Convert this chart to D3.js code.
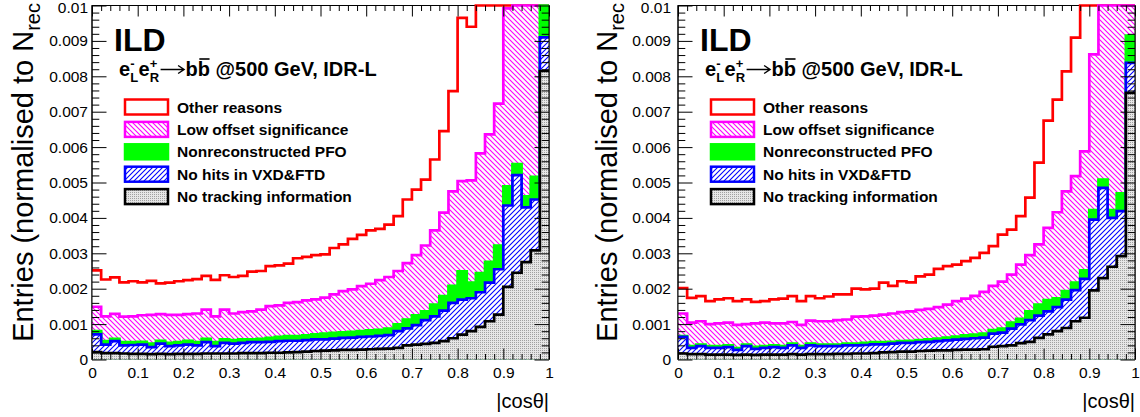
<!DOCTYPE html>
<html><head><meta charset="utf-8">
<script src="https://cdn.jsdelivr.net/npm/d3@7"></script>
<style>
body{margin:0;background:#fff}
svg{display:block}
text{font-family:"Liberation Sans",Arial,Helvetica,sans-serif}
</style>
</head><body>
<svg id="c" width="1140" height="417"></svg>
<script>
// ---------------- DATA ----------------
// bin edges of |cos(theta)| (50 bins)
const binEdges = [0,0.02,0.04,0.06,0.08,0.1,0.12,0.14,0.16,0.18,0.2,0.22,0.24,0.26,0.28,0.3,0.32,0.34,0.36,0.38,0.4,
  0.42,0.44,0.46,0.48,0.5,0.52,0.54,0.56,0.58,0.6,0.62,0.64,0.66,0.68,0.7,0.72,0.74,0.76,0.78,0.8,
  0.82,0.84,0.86,0.88,0.9,0.92,0.94,0.96,0.98,1];
const xTickValues = [0,0.1,0.2,0.3,0.4,0.5,0.6,0.7,0.8,0.9,1];
const xTickLabels = ["0","0.1","0.2","0.3","0.4","0.5","0.6","0.7","0.8","0.9","1"];
// y values are stored in units of 1e-3
const yTickValues = [0,1,2,3,4,5,6,7,8,9,10];
const yTickLabels = ["0","0.001","0.002","0.003","0.004","0.005","0.006","0.007","0.008","0.009","0.01"];
const seriesNames = ["Other reasons","Low offset significance","Nonreconstructed PFO","No hits in VXD&FTD","No tracking information"];

// Stacked (cumulative) levels, units 1e-3, left panel
const leftOther = [2.52,2.26,2.32,2.18,2.21,2.18,2.22,2.15,2.17,2.21,2.24,2.27,2.36,2.25,2.38,2.33,2.36,2.48,2.50,2.64,
  2.66,2.71,2.86,2.90,2.95,2.97,3.15,3.25,3.41,3.52,3.65,3.69,3.81,4.05,4.52,4.80,5.08,5.65,6.45,7.58,
  9.65,9.40,10.6,11.2,12.0,13.0,14.0,15.0,16.0,18.0];
const leftLowOffset = [1.49,1.22,1.29,1.21,1.22,1.25,1.26,1.28,1.26,1.26,1.28,1.30,1.41,1.22,1.41,1.30,1.34,1.36,1.41,1.51,
  1.53,1.60,1.62,1.67,1.70,1.75,1.84,1.93,1.98,2.07,2.14,2.24,2.33,2.50,2.72,2.95,3.22,3.65,4.15,4.75,
  5.04,5.06,5.82,6.36,7.23,9.92,10.4,10.8,11.5,13.0];
const leftNonreco = [0.80,0.52,0.58,0.49,0.49,0.50,0.45,0.53,0.47,0.49,0.53,0.49,0.58,0.49,0.57,0.55,0.57,0.57,0.58,0.61,
  0.64,0.66,0.66,0.68,0.71,0.73,0.75,0.77,0.78,0.80,0.82,0.84,0.87,0.99,1.13,1.25,1.36,1.55,1.79,2.08,
  2.49,2.17,2.44,2.76,3.22,4.89,5.52,4.61,5.16,10.3];
const leftNoHits = [0.71,0.42,0.52,0.40,0.41,0.42,0.35,0.45,0.38,0.40,0.42,0.40,0.49,0.38,0.47,0.45,0.47,0.49,0.49,0.50,
  0.52,0.53,0.53,0.55,0.57,0.57,0.59,0.61,0.62,0.64,0.65,0.67,0.69,0.80,0.88,0.97,1.11,1.22,1.38,1.60,
  1.69,1.73,1.90,2.17,2.55,4.35,5.21,4.30,4.52,9.10];
const leftNoTrack = [0.21,0.18,0.18,0.17,0.16,0.16,0.15,0.16,0.15,0.16,0.16,0.16,0.17,0.17,0.17,0.17,0.18,0.18,0.18,0.19,
  0.19,0.20,0.21,0.22,0.24,0.25,0.26,0.27,0.27,0.28,0.29,0.30,0.31,0.33,0.40,0.42,0.44,0.47,0.52,0.60,
  0.70,0.80,0.92,1.08,1.27,2.05,2.45,2.75,3.08,8.15];

// right panel
const rightOther = [2.02,1.74,1.79,1.65,1.70,1.73,1.65,1.70,1.63,1.65,1.70,1.72,1.79,1.65,1.79,1.73,1.78,1.84,1.84,2.00,
  1.98,2.00,2.17,2.08,2.21,2.18,2.35,2.40,2.56,2.64,2.68,2.78,2.87,3.01,3.20,3.53,3.67,4.05,4.57,5.56,
  6.75,7.34,8.14,9.09,10.8,11.5,12.5,13.5,14.5,17.0];
const rightLowOffset = [1.30,1.04,1.08,1.00,1.02,1.04,0.98,1.00,1.02,1.04,1.02,1.02,1.06,0.98,1.10,1.08,1.08,1.11,1.13,1.21,
  1.22,1.24,1.27,1.30,1.34,1.36,1.40,1.43,1.48,1.55,1.65,1.72,1.80,1.91,2.08,2.20,2.40,2.68,2.95,3.25,
  3.72,4.16,4.75,5.18,5.88,8.62,10.5,11.0,11.8,13.5];
const rightNonreco = [0.66,0.38,0.42,0.38,0.38,0.40,0.32,0.42,0.36,0.38,0.40,0.38,0.45,0.38,0.45,0.42,0.42,0.42,0.45,0.45,
  0.47,0.49,0.49,0.50,0.52,0.53,0.55,0.57,0.59,0.62,0.65,0.68,0.70,0.73,0.83,0.87,1.04,1.15,1.36,1.55,
  1.68,1.73,1.93,2.17,2.52,4.22,5.08,4.22,4.69,9.15];
const rightNoHits = [0.64,0.33,0.38,0.33,0.33,0.35,0.27,0.38,0.30,0.33,0.35,0.33,0.40,0.33,0.40,0.38,0.38,0.38,0.40,0.40,
  0.41,0.43,0.43,0.45,0.47,0.47,0.49,0.50,0.52,0.54,0.56,0.58,0.60,0.62,0.73,0.76,0.87,0.99,1.11,1.24,
  1.36,1.48,1.69,1.96,2.28,3.95,4.85,4.00,4.19,8.38];
const rightNoTrack = [0.17,0.15,0.15,0.14,0.14,0.14,0.13,0.14,0.13,0.14,0.14,0.14,0.15,0.14,0.15,0.15,0.15,0.16,0.16,0.17,
  0.17,0.18,0.20,0.21,0.22,0.22,0.24,0.25,0.26,0.26,0.27,0.28,0.28,0.29,0.36,0.38,0.40,0.46,0.50,0.61,
  0.71,0.80,0.89,1.08,1.18,1.95,2.30,2.62,2.92,7.53];

// ---------------- DRAWING ----------------
const svg = d3.select("#c");
const defs = svg.append("defs");

function hatchPattern(id, color, dir){
  const s = 5;
  const p = defs.append("pattern").attr("id", id).attr("patternUnits","userSpaceOnUse")
    .attr("width", s).attr("height", s);
  p.append("rect").attr("width", s).attr("height", s).attr("fill","#fff");
  const d = dir === "back"
    ? `M0,0 L${s},${s} M${-1},${s-1} L1,${s+1} M${s-1},-1 L${s+1},1`
    : `M0,${s} L${s},0 M-1,1 L1,-1 M${s-1},${s+1} L${s+1},${s-1}`;
  p.append("path").attr("d", d).attr("stroke", color).attr("stroke-width", 1.1).attr("fill","none");
}
hatchPattern("hMag", "#ff00ff", "back");
hatchPattern("hBlue", "#0000ff", "fwd");
{
  const p = defs.append("pattern").attr("id","dots").attr("patternUnits","userSpaceOnUse")
    .attr("width", 2).attr("height", 2);
  p.append("rect").attr("width",2).attr("height",2).attr("fill","#e6e6e6").attr("shape-rendering","crispEdges");
  p.append("rect").attr("width",1).attr("height",1).attr("fill","#a0a0a0").attr("shape-rendering","crispEdges");
}

const styles = [
  {color:"#ff0000", fill:"#ffffff"},
  {color:"#ff00ff", fill:"url(#hMag)"},
  {color:"#00ff00", fill:"#00ff00"},
  {color:"#0000ff", fill:"url(#hBlue)"},
  {color:"#000000", fill:"url(#dots)"}
];

const TOP = 5.5, BOTTOM = 359.5;

function drawPanel(id, x0, x1, stacks, labelPad, titleOff){
  const g = svg.append("g");
  const x = d3.scaleLinear().domain([0,1]).range([x0, x1]);
  const y = d3.scaleLinear().domain([0,10]).range([BOTTOM, TOP]).clamp(true);

  // frame
  g.append("rect").attr("x", x0).attr("y", TOP).attr("width", x1-x0).attr("height", BOTTOM-TOP)
    .attr("fill","#fff").attr("stroke","#000").attr("stroke-width",1);

  defs.append("clipPath").attr("id","clip"+id).append("rect")
    .attr("x", x0).attr("y", TOP-2).attr("width", x1-x0).attr("height", BOTTOM-TOP+2);
  const hg = g.append("g").attr("clip-path", `url(#clip${id})`);

  const area = d3.area().curve(d3.curveStepAfter).x(d=>x(d.e)).y0(y(0)).y1(d=>y(d.v));
  const line = d3.line().curve(d3.curveStepAfter).x(d=>x(d.e)).y(d=>y(d.v));

  stacks.forEach((vals, k) => {
    const pts = vals.map((v,i)=>({e:binEdges[i], v:v}));
    pts.push({e:binEdges[vals.length], v:vals[vals.length-1]});
    hg.append("path").datum(pts).attr("d", area).attr("fill", styles[k].fill).attr("stroke","none");
    hg.append("path").datum(pts).attr("d", line).attr("fill","none")
      .attr("stroke", styles[k].color).attr("stroke-width", 2.7).attr("stroke-linejoin","miter");
  });

  // axes
  const yMinor = d3.range(0, 10.01, 0.2).filter(v => Math.abs(v - Math.round(v)) > 0.01);
  const xMinor = d3.range(0, 1.001, 0.02).filter(v => Math.abs(v*10 - Math.round(v*10)) > 0.01);

  const ax = [];
  ax.push(g.append("g").attr("transform",`translate(${x0},0)`)
    .call(d3.axisLeft(y).tickValues(yTickValues).tickSize(-14.5).tickSizeOuter(0).tickPadding(labelPad)
      .tickFormat((d,i)=>yTickLabels[i])));
  ax.push(g.append("g").attr("transform",`translate(${x0},0)`)
    .call(d3.axisLeft(y).tickValues(yMinor).tickSize(-7.3).tickSizeOuter(0).tickFormat("")));
  ax.push(g.append("g").attr("transform",`translate(${x1},0)`)
    .call(d3.axisRight(y).tickValues(yTickValues).tickSize(-14.5).tickSizeOuter(0).tickFormat("")));
  ax.push(g.append("g").attr("transform",`translate(${x1},0)`)
    .call(d3.axisRight(y).tickValues(yMinor).tickSize(-7.3).tickSizeOuter(0).tickFormat("")));
  ax.push(g.append("g").attr("transform",`translate(0,${BOTTOM})`)
    .call(d3.axisBottom(x).tickValues(xTickValues).tickSize(-11).tickSizeOuter(0).tickPadding(7)
      .tickFormat((d,i)=>xTickLabels[i])));
  ax.push(g.append("g").attr("transform",`translate(0,${BOTTOM})`)
    .call(d3.axisBottom(x).tickValues(xMinor).tickSize(-5.5).tickSizeOuter(0).tickFormat("")));
  ax.push(g.append("g").attr("transform",`translate(0,${TOP})`)
    .call(d3.axisTop(x).tickValues(xTickValues).tickSize(-11).tickSizeOuter(0).tickFormat("")));
  ax.push(g.append("g").attr("transform",`translate(0,${TOP})`)
    .call(d3.axisTop(x).tickValues(xMinor).tickSize(-5.5).tickSizeOuter(0).tickFormat("")));
  ax.forEach(a => {
    a.select(".domain").remove();
    a.attr("font-family", null).attr("font-size", null);
    a.selectAll("text").attr("font-size", 15.5).attr("fill","#000")
      .style("font-family", '"Liberation Sans", Arial, sans-serif');
  });
  // nudge the top label down so it is not cut at the page edge
  ax[0].selectAll(".tick").filter((d,i)=>i===yTickValues.length-1).select("text").attr("dy","0.42em");
  g.append("line").attr("x1", x0).attr("x2", x0).attr("y1", TOP).attr("y2", BOTTOM)
    .attr("stroke","#000").attr("stroke-width",1);
  g.append("line").attr("x1", x1).attr("x2", x1).attr("y1", TOP).attr("y2", BOTTOM)
    .attr("stroke","#000").attr("stroke-width",1);

  // axis titles
  g.append("text").attr("x", x1).attr("y", 408).attr("text-anchor","end")
    .attr("font-size", 20).text("|cos\u03b8|");
  const yt = g.append("text").attr("transform", `translate(${x0-titleOff},3) rotate(-90)`)
    .attr("text-anchor","end").attr("font-size", 29);
  yt.append("tspan").text("Entries (normalised to N");
  yt.append("tspan").attr("font-size", 20).attr("dy", 7).text("rec");

  // ILD label
  g.append("text").attr("x", x0+22).attr("y", 50.5).attr("font-size", 32).attr("font-weight","bold").text("ILD");

  // process label
  const lab = g.append("g").attr("font-weight","bold");
  let cx = x0 + 27;
  const by = 76;
  const fs = 20;
  function word(t, size){
    const e = lab.append("text").attr("x", cx).attr("y", by).attr("font-size", size).text(t);
    return [e, e.node().getComputedTextLength()];
  }
  function scripts(sup, sub){
    const a = lab.append("text").attr("x", cx).attr("y", by-8).attr("font-size", 13).text(sup);
    const b = lab.append("text").attr("x", cx).attr("y", by+6).attr("font-size", 13).text(sub);
    cx += Math.max(a.node().getComputedTextLength(), b.node().getComputedTextLength()) + 0.5;
  }
  let r = word("e", fs); cx += r[1];
  scripts("-", "L");
  r = word("e", fs); cx += r[1];
  scripts("+", "R");
  // arrow
  lab.append("path")
    .attr("d", `M${cx+1},${by-6.5} H${cx+24} M${cx+18.5},${by-10.5} L${cx+24.5},${by-6.5} L${cx+18.5},${by-2.5}`)
    .attr("fill","none").attr("stroke","#000").attr("stroke-width",1.4);
  cx += 26;
  r = word("b", fs); cx += r[1];
  r = word("b", fs);
  lab.append("line").attr("x1", cx+1.5).attr("x2", cx+r[1]-0.5).attr("y1", by-17).attr("y2", by-17)
    .attr("stroke","#000").attr("stroke-width",1.6);
  cx += r[1];
  r = word("\u00a0@500 GeV, IDR-L", fs);

  // legend
  const lg = g.append("g");
  seriesNames.forEach((name, k) => {
    const cy = 107 + k*22.4;
    lg.append("rect").attr("x", x0+33).attr("y", cy-7.5).attr("width", 43).attr("height", 15)
      .attr("fill", styles[k].fill).attr("stroke", styles[k].color).attr("stroke-width", 2.5);
    lg.append("text").attr("x", x0+85).attr("y", cy+5.5).attr("font-size", 15.5).attr("font-weight","bold")
      .text(name);
  });
}

drawPanel("L", 92, 549, [leftOther, leftLowOffset, leftNonreco, leftNoHits, leftNoTrack], 4, 59);
drawPanel("R", 678, 1135, [rightOther, rightLowOffset, rightNonreco, rightNoHits, rightNoTrack], 7, 61);
</script>
</body></html>
